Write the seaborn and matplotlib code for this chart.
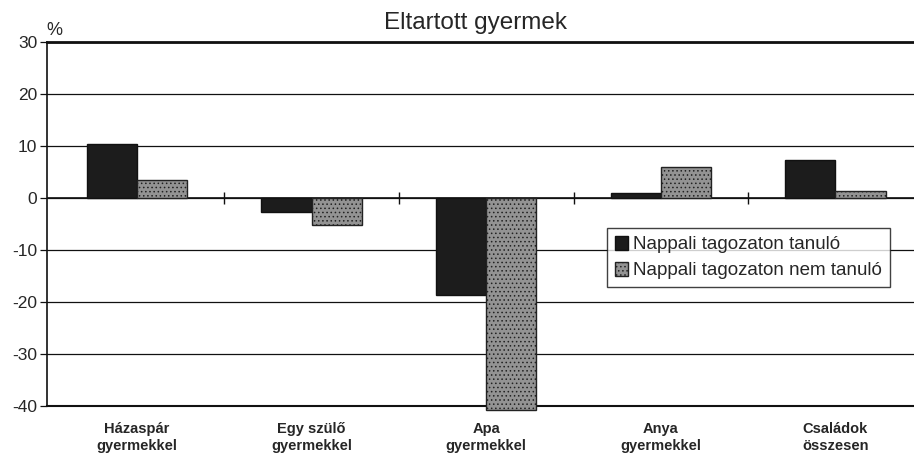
import matplotlib
matplotlib.use("Agg")
import matplotlib.pyplot as plt
import seaborn as sns
import pandas as pd
import numpy as np

categories = ["Házaspár\ngyermekkel", "Egy szülő\ngyermekkel", "Apa\ngyermekkel",
              "Anya\ngyermekkel", "Családok\nösszesen"]
series_names = ["Nappali tagozaton tanuló", "Nappali tagozaton nem tanuló"]
tanulo = [10.4, -2.7, -18.6, 1.0, 7.3]
nem_tanulo = [3.5, -5.2, -40.8, 6.0, 1.4]
yticks = [30, 20, 10, 0, -10, -20, -30, -40]

df = pd.DataFrame({
    "cat": categories * 2,
    "series": [series_names[0]] * 5 + [series_names[1]] * 5,
    "val": tanulo + nem_tanulo,
})

sns.set_style("white")
plt.rcParams["font.family"] = ["Liberation Sans", "DejaVu Sans"]
plt.rcParams["hatch.color"] = "#555555"
plt.rcParams["hatch.linewidth"] = 0.6

fig = plt.figure(figsize=(9.14, 4.65), dpi=100)
ax = fig.add_axes([47 / 914, 59 / 465, 867 / 914, 364 / 465])

palette = {series_names[0]: "#1c1c1c", series_names[1]: "#939393"}
sns.barplot(data=df, x="cat", y="val", hue="series", order=categories,
            hue_order=series_names, palette=palette, width=0.575,
            edgecolor="#111111", linewidth=1.0, saturation=1, ax=ax, zorder=3)

for bar in ax.patches:
    if abs(bar.get_facecolor()[0] - 0x93 / 255) < 0.02:
        bar.set_hatch("....")
        bar.set_edgecolor("#222222")
    bar.set_clip_on(False)

ax.set_ylim(-40, 30)
ax.set_xlim(-0.516, 4.45)
ax.set_yticks(yticks)
ax.set_yticklabels([str(t) for t in yticks], fontsize=12.5)
ax.yaxis.grid(True, color="#111111", linewidth=0.9, zorder=0)
ax.set_axisbelow(True)
ax.tick_params(axis="y", left=True, length=5, width=0.9, color="#111111", pad=2)
ax.tick_params(axis="x", bottom=False, labelsize=10.5, pad=8)
for lbl in ax.get_xticklabels():
    lbl.set_linespacing(1.25)
    lbl.set_fontweight("bold")
ax.set_xlabel("")
ax.set_ylabel("")

ax.spines["right"].set_visible(False)
ax.spines["left"].set_color("#111111")
ax.spines["left"].set_linewidth(1.2)
ax.spines["top"].set_color("#111111")
ax.spines["top"].set_linewidth(2.0)
ax.spines["bottom"].set_color("#111111")
ax.spines["bottom"].set_linewidth(1.5)

ax.axhline(0, color="#111111", linewidth=1.2, zorder=2)
ax.plot(np.arange(len(categories) - 1) + 0.5, [0] * (len(categories) - 1),
        linestyle="none", marker="|", markersize=9, color="#111111", zorder=2)

fig.text(0.52, 0.951, "Eltartott gyermek", ha="center", va="center", fontsize=17.5)
fig.text(0.06, 0.935, "%", ha="center", va="center", fontsize=13)

leg = ax.legend(loc="upper left", bbox_to_anchor=(0.646, 0.489),
                prop={"size": 13.5},
                frameon=True, fancybox=False, edgecolor="#111111",
                handlelength=0.7, handleheight=0.8, handletextpad=0.3,
                borderpad=0.4, labelspacing=0.45, borderaxespad=0)
leg.get_frame().set_linewidth(1.0)
leg.set_zorder(5)

fig.savefig("out.png", dpi=100, facecolor="white")
